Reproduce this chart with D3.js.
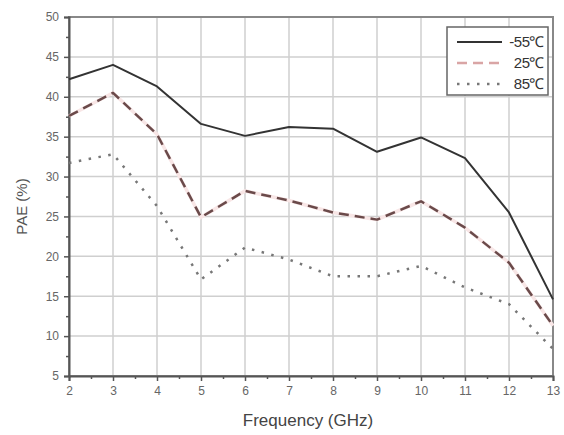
<!DOCTYPE html>
<html>
<head>
<meta charset="utf-8">
<script src="https://cdn.jsdelivr.net/npm/d3@7"></script>
<style>
  body { margin: 0; background: #fff; }
  svg { display: block; font-family: "Liberation Sans", Arial, sans-serif; }
</style>
</head>
<body>
<div id="chart"></div>
<script>
// frequency points (GHz)
const freq = [2, 3, 4, 5, 6, 7, 8, 9, 10, 11, 12, 13];
// PAE (%) per temperature
const paeM55 = [42.2, 44.0, 41.3, 36.6, 35.1, 36.2, 36.0, 33.1, 34.9, 32.3, 25.5, 14.6];
const pae25 = [37.6, 40.5, 35.3, 24.9, 28.2, 27.0, 25.5, 24.6, 26.9, 23.6, 19.2, 11.3];
const pae85 = [31.7, 32.8, 26.3, 17.1, 21.1, 19.6, 17.5, 17.5, 18.8, 16.1, 14.0, 8.4];
const seriesNames = ["-55\u2103", "25\u2103", "85\u2103"];
const xTicks = [2, 3, 4, 5, 6, 7, 8, 9, 10, 11, 12, 13];
const yTicks = [5, 10, 15, 20, 25, 30, 35, 40, 45, 50];

let width = 564, height = 435;
let margin = {left: 69, right: 11, top: 17, bottom: 59};

let svg = d3.select("#chart").append("svg")
    .attr("width", width)
    .attr("height", height);

let x = d3.scaleLinear().domain([2, 13]).range([margin.left, width - margin.right]);
let y = d3.scaleLinear().domain([5, 50]).range([height - margin.bottom, margin.top]);

//grid
svg.append("g").selectAll("line")
    .data(xTicks.slice(1, -1))
    .enter().append("line")
    .attr("x1", d => x(d)).attr("x2", d => x(d))
    .attr("y1", y(5)).attr("y2", y(50))
    .attr("stroke", "#cfcfcf").attr("stroke-width", 1.5);

svg.append("g").selectAll("line")
    .data(yTicks.slice(1, -1))
    .enter().append("line")
    .attr("x1", x(2)).attr("x2", x(13))
    .attr("y1", d => y(d)).attr("y2", d => y(d))
    .attr("stroke", "#cfcfcf").attr("stroke-width", 1.5);

//frame
svg.append("rect")
    .attr("x", x(2)).attr("y", y(50))
    .attr("width", x(13) - x(2)).attr("height", y(5) - y(50))
    .attr("fill", "none").attr("stroke", "#888").attr("stroke-width", 2);

//axes
svg.append("g")
    .attr("transform", "translate(0," + y(5) + ")")
    .call(d3.axisBottom(x).tickValues(xTicks).tickSize(5).tickPadding(5).tickFormat(d3.format("d")));
svg.append("g")
    .attr("transform", "translate(0," + y(5) + ")")
    .call(d3.axisBottom(x).tickValues(d3.range(2.5, 13, 1)).tickSize(3).tickFormat(""))
    .call(g => g.select(".domain").remove());

svg.append("g")
    .attr("transform", "translate(" + x(2) + ",0)")
    .call(d3.axisLeft(y).tickValues(yTicks).tickSize(5).tickPadding(5).tickFormat(d3.format("d")));
svg.append("g")
    .attr("transform", "translate(" + x(2) + ",0)")
    .call(d3.axisLeft(y).tickValues(d3.range(7.5, 50, 5)).tickSize(3).tickFormat(""))
    .call(g => g.select(".domain").remove());

svg.selectAll(".domain").attr("stroke", "#555").attr("stroke-width", 2);
svg.selectAll(".tick line").attr("stroke", "#555").attr("stroke-width", 1.5);
svg.selectAll(".tick text").attr("fill", "#666").style("font-size", "12px");

//axis titles
svg.append("text")
    .attr("x", (x(2) + x(13)) / 2 - 3)
    .attr("y", 426)
    .attr("text-anchor", "middle")
    .attr("fill", "#444")
    .style("font-size", "17px")
    .text("Frequency (GHz)");

svg.append("text")
    .attr("transform", "translate(27," + ((y(5) + y(50)) / 2 + 10) + ") rotate(-90)")
    .attr("text-anchor", "middle")
    .attr("fill", "#555")
    .style("font-size", "15px")
    .text("PAE (%)");

//lines
let line = d3.line()
    .x((d, i) => x(freq[i]))
    .y(d => y(d));

let styles = [
    {data: paeM55, color: "#333", width: 2, dash: null},
    {data: pae25, color: "#6a4a4a", width: 2.5, dash: "10,6"},
    {data: pae85, color: "#777", width: 2.5, dash: "2.5,7.5"}
];

// faint pink halo under the dashed series
svg.append("path")
    .attr("d", line(pae25))
    .attr("fill", "none")
    .attr("stroke", "#f8e6e6")
    .attr("stroke-width", 3.5);

styles.forEach(s => {
    svg.append("path")
        .attr("d", line(s.data))
        .attr("fill", "none")
        .attr("stroke", s.color)
        .attr("stroke-width", s.width)
        .attr("stroke-linejoin", "round")
        .attr("stroke-dasharray", s.dash);
});

//legend
let legend = svg.append("g").attr("transform", "translate(447,27)");
legend.append("rect")
    .attr("width", 101).attr("height", 68)
    .attr("fill", "#fff").attr("stroke", "#666").attr("stroke-width", 1.5);

styles.forEach((s, i) => {
    let ly = 15 + i * 21;
    legend.append("line")
        .attr("x1", 10).attr("x2", 55)
        .attr("y1", ly).attr("y2", ly)
        .attr("stroke", i == 1 ? "#d9a5a5" : s.color)
        .attr("stroke-width", s.width)
        .attr("stroke-dasharray", s.dash);
    legend.append("text")
        .attr("x", 97).attr("y", ly + 5)
        .attr("text-anchor", "end")
        .attr("fill", "#333")
        .style("font-size", "15px")
        .style("letter-spacing", "-0.5px")
        .text(seriesNames[i]);
});
</script>
</body>
</html>
